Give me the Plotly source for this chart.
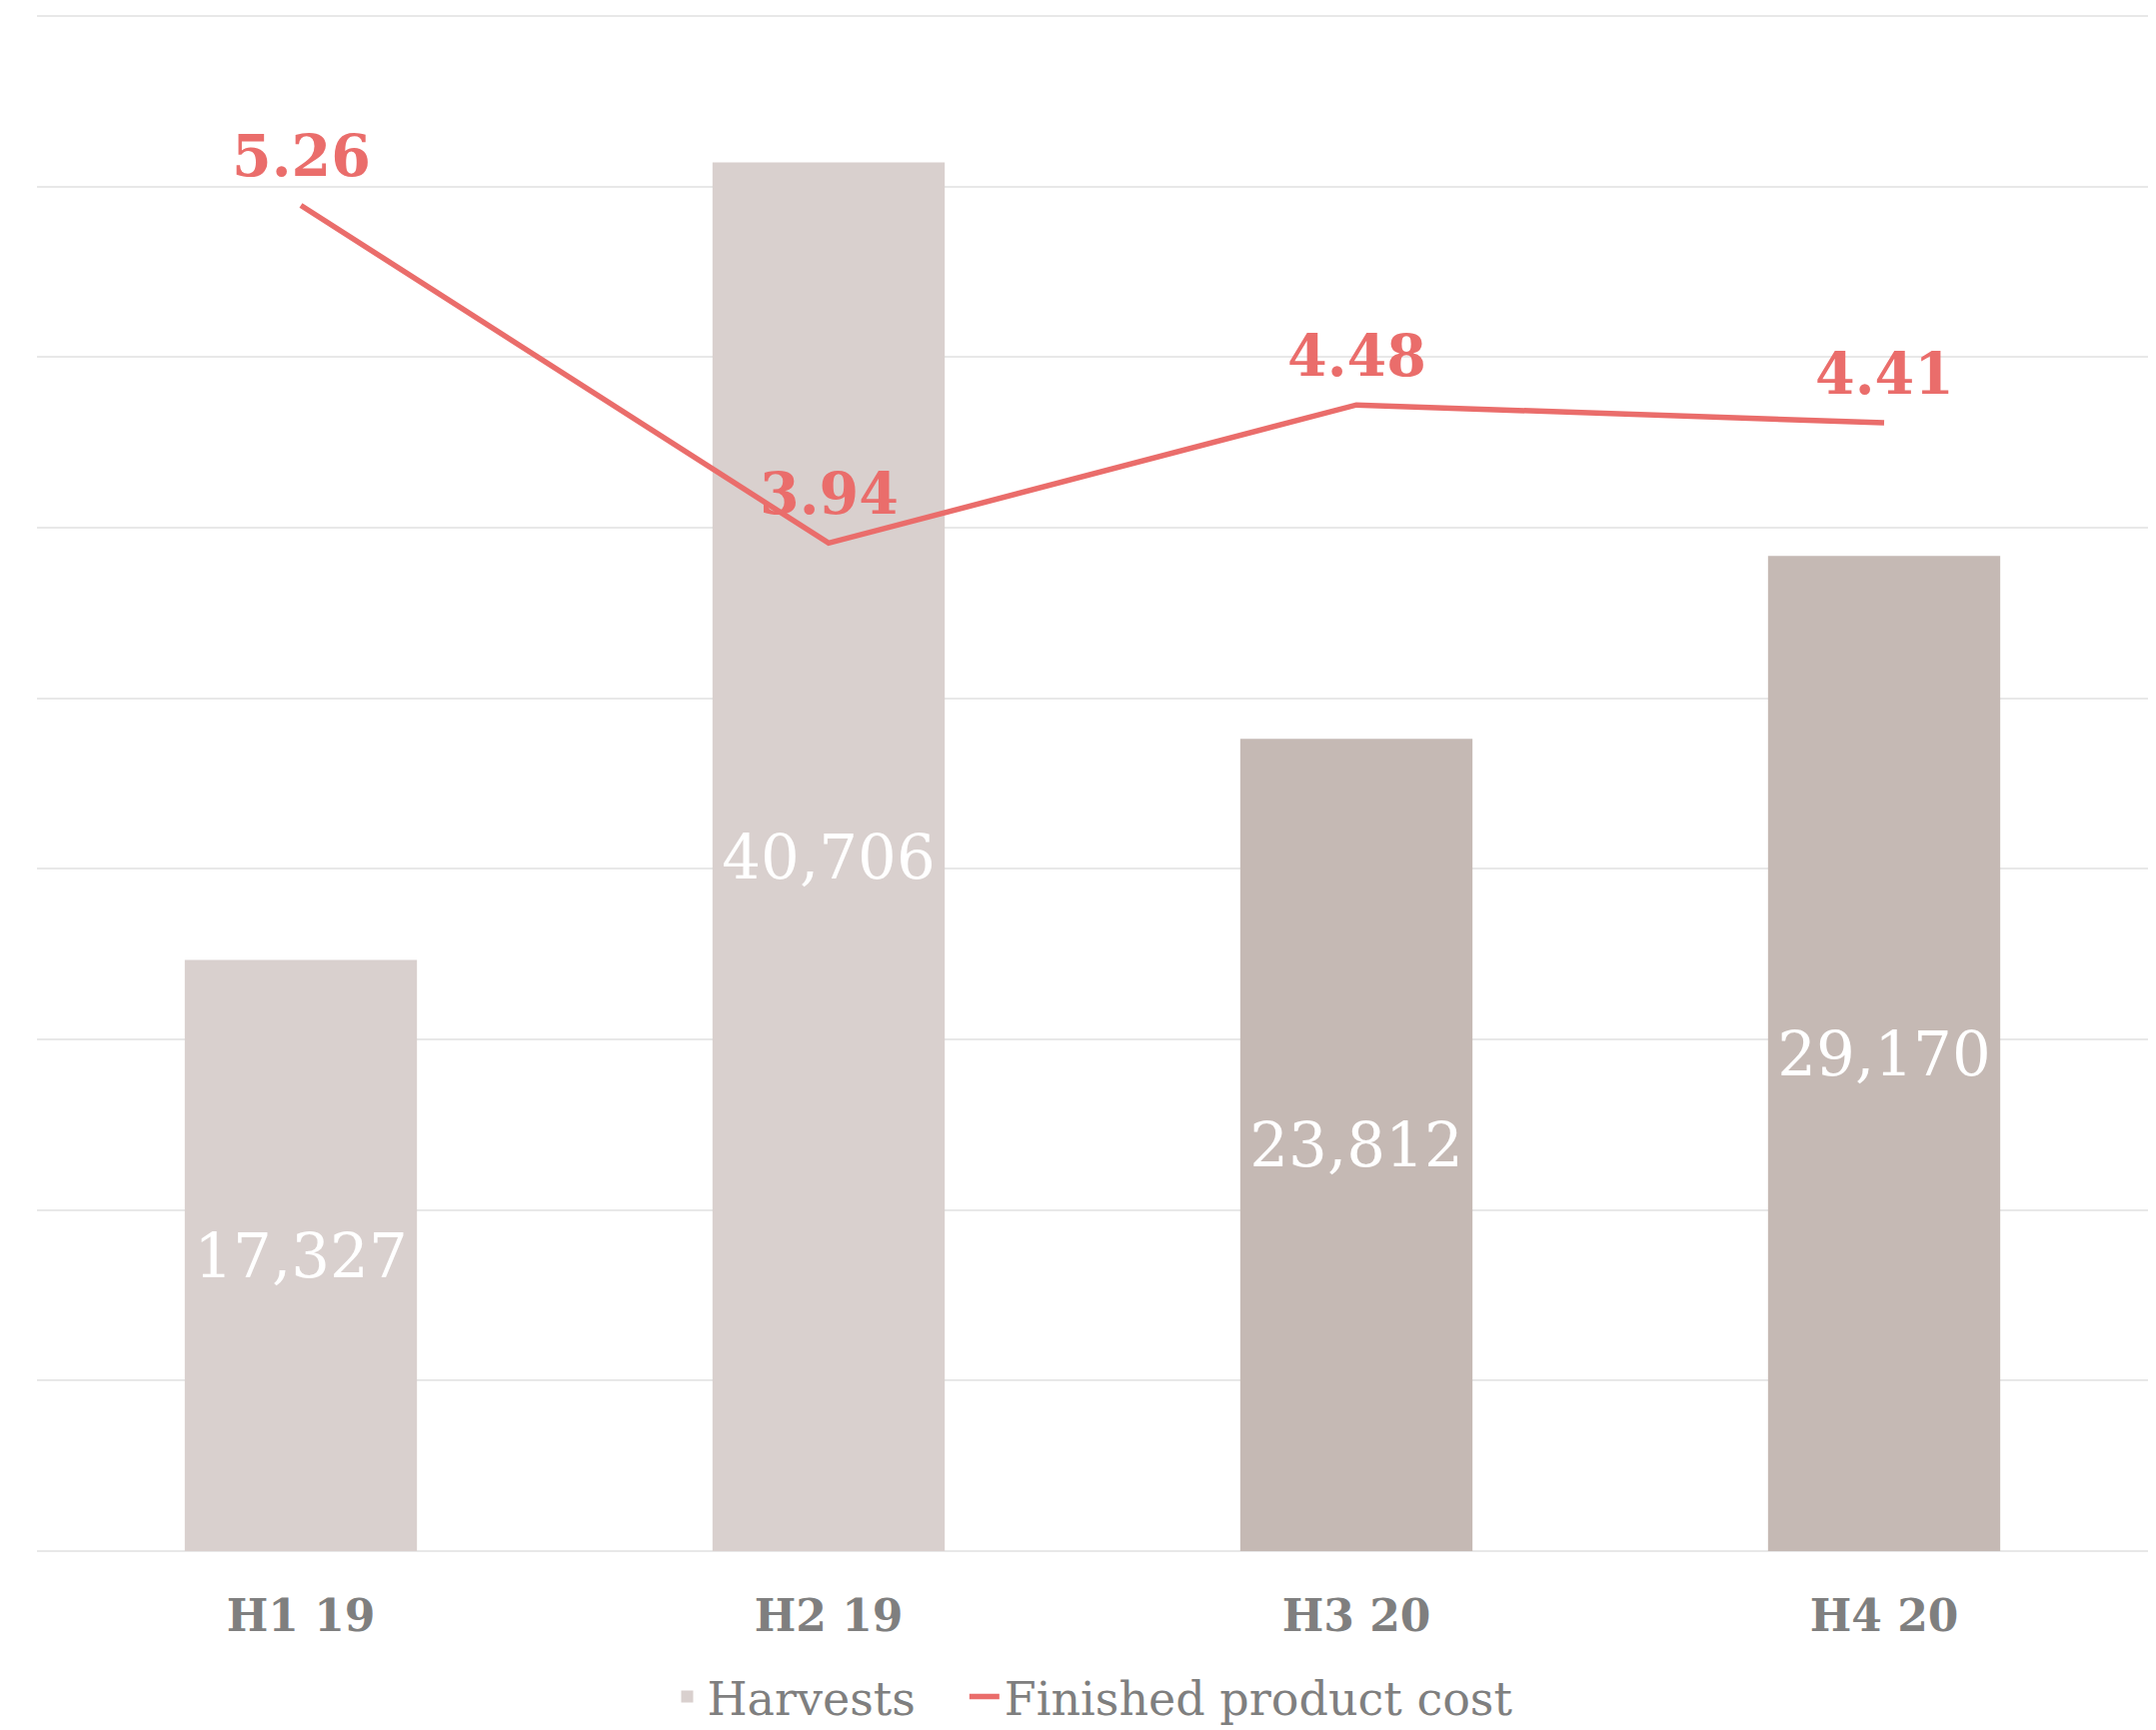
import plotly.graph_objects as go

categories = ["H1 19", "H2 19", "H3 20", "H4 20"]
harvests = [17327, 40706, 23812, 29170]
cost = [5.26, 3.94, 4.48, 4.41]
bar_colors = ["#D9D0CE", "#D9D0CE", "#C5B9B4", "#C5B9B4"]

SERIF = "Georgia, 'DejaVu Serif', serif"
RED = "#EA6D6B"

fig = go.Figure()
fig.add_trace(go.Bar(
    x=categories, y=harvests, name="Harvests&nbsp;&nbsp;&nbsp;",
    marker=dict(color=bar_colors, line=dict(width=0)),
    width=0.44,
    texttemplate="%{y:,}", textposition="inside", insidetextanchor="middle",
    textfont=dict(color="white", size=61, family=SERIF),
    textangle=0,
))
fig.add_trace(go.Scatter(
    x=categories, y=cost, name="Finished product cost", yaxis="y2",
    mode="lines", line=dict(color=RED, width=5.5),
))

annotations = [
    dict(x=c, y=v, xref="x", yref="y2", text=f"<b>{v:.2f}</b>", showarrow=False,
         yshift=50, font=dict(color=RED, size=57, family=SERIF))
    for c, v in zip(categories, cost)
]

fig.update_layout(
    width=2149, height=1723,
    margin=dict(l=29, r=8, t=6, b=179, autoexpand=False),
    plot_bgcolor="white", paper_bgcolor="white",
    font=dict(family=SERIF, color="#7F7F7F"),
    showlegend=True,
    annotations=annotations,
    legend=dict(orientation="h", x=0.5, xanchor="center", y=-0.071, yanchor="top",
                font=dict(size=46, color="#7F7F7F", family=SERIF),
                itemwidth=30),
    xaxis=dict(showgrid=False, showline=False, zeroline=False, ticks="",
               automargin=False, ticklabelstandoff=35,
               tickfont=dict(size=44, color="#7F7F7F", family=SERIF, weight="bold")),
    yaxis=dict(range=[0, 45060], tick0=0, dtick=5000, showgrid=True, gridcolor="#E8E8E8", gridwidth=2,
               showticklabels=False, zeroline=True, zerolinecolor="#E8E8E8", zerolinewidth=2,
               automargin=False),
    yaxis2=dict(range=[0, 6.008], overlaying="y", side="right", showgrid=False,
                showticklabels=False, zeroline=False, automargin=False),
)

fig.write_html("out.html")
